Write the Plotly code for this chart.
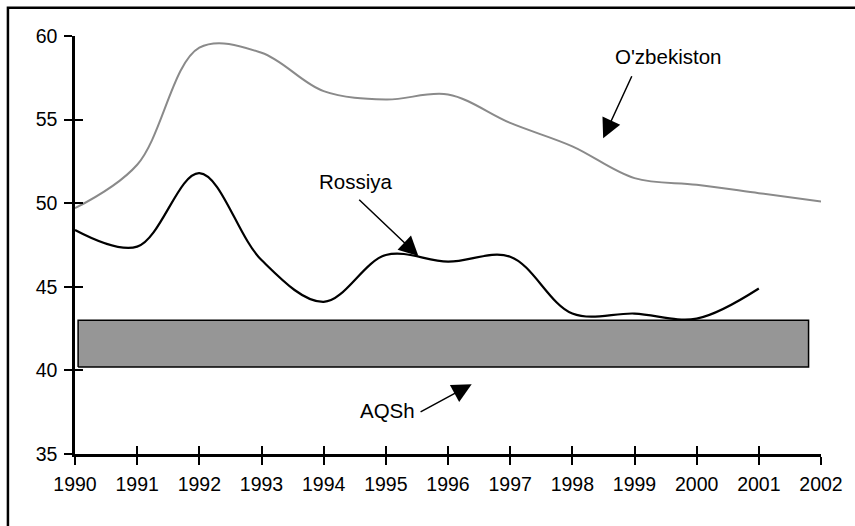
import plotly.graph_objects as go

years = [1990, 1991, 1992, 1993, 1994, 1995, 1996, 1997, 1998, 1999, 2000, 2001, 2002]
uzbekistan = [49.7, 52.3, 59.3, 59.0, 56.7, 56.2, 56.5, 54.8, 53.4, 51.5, 51.1, 50.6, 50.1]
russia_years = [1990, 1991, 1992, 1993, 1994, 1995, 1996, 1997, 1998, 1999, 2000, 2001]
russia = [48.4, 47.4, 51.8, 46.6, 44.1, 46.9, 46.5, 46.8, 43.4, 43.4, 43.1, 44.9]
usa_band_years = [1990.05, 2001.8]
usa_band_range = [40.2, 43.0]
y_ticks = [35, 40, 45, 50, 55, 60]
x_ticks = years

FONT = "Liberation Sans, Arial, sans-serif"

fig = go.Figure()

# USA band (AQSh)
bx = [usa_band_years[0], usa_band_years[1], usa_band_years[1], usa_band_years[0], usa_band_years[0]]
by = [usa_band_range[0], usa_band_range[0], usa_band_range[1], usa_band_range[1], usa_band_range[0]]
fig.add_trace(go.Scatter(x=bx, y=by, mode="lines", fill="toself", fillcolor="#969696",
                         line=dict(color="black", width=1.5), hoverinfo="skip", showlegend=False))

fig.add_trace(go.Scatter(x=years, y=uzbekistan, mode="lines", name="O'zbekiston",
                         line=dict(color="#8a8a8a", width=2, shape="spline", smoothing=1.0),
                         showlegend=False))
fig.add_trace(go.Scatter(x=russia_years, y=russia, mode="lines", name="Rossiya",
                         line=dict(color="black", width=2.2, shape="spline", smoothing=1.0),
                         showlegend=False))
# helper trace for the secondary (inside tick) axes
fig.add_trace(go.Scatter(x=[None], y=[None], xaxis="x2", yaxis="y2", showlegend=False, hoverinfo="skip"))

axis_common = dict(showgrid=False, zeroline=False, showline=True, linecolor="black", linewidth=2.5,
                   tickcolor="black", tickwidth=2, ticklen=8)

fig.update_layout(
    width=855, height=526,
    margin=dict(l=75, r=29, t=36, b=72),
    paper_bgcolor="white", plot_bgcolor="white",
    font=dict(family=FONT, size=19.5, color="black"),
    xaxis=dict(range=[1990, 2002], tickvals=x_ticks, ticks="outside", ticklabelstandoff=3, **axis_common),
    yaxis=dict(range=[35, 60], tickvals=y_ticks, ticks="outside", ticklabelstandoff=3, **axis_common),
    xaxis2=dict(range=[1990, 2002], tickvals=x_ticks, ticks="inside", overlaying="x", anchor="y",
                side="bottom", showticklabels=False, **axis_common),
    yaxis2=dict(range=[35, 60], tickvals=y_ticks, ticks="inside", overlaying="y", anchor="x",
                side="left", showticklabels=False, **axis_common),
)

# outer frame (only top/left edges visible in the crop)
fig.add_shape(type="rect", xref="paper", yref="paper", x0=-0.0899, x1=1.3, y0=-0.5, y1=1.0673,
              line=dict(color="black", width=2.5), fillcolor="rgba(0,0,0,0)", layer="above")

arrow_style = dict(showarrow=True, arrowhead=2, arrowsize=2.6, arrowwidth=1.5, arrowcolor="black", text="")
ann_font = dict(family=FONT, size=20.5, color="black")

fig.add_annotation(x=1995.524, y=46.84, ax=-60.7, ay=-57.7, **arrow_style)
fig.add_annotation(x=1998.496, y=53.88, ax=29.3, ay=-63.6, **arrow_style)
fig.add_annotation(x=1996.381, y=39.17, ax=-52.6, ay=28.4, **arrow_style)

fig.add_annotation(x=1994.52, y=51.27, text="Rossiya", showarrow=False, font=ann_font)
fig.add_annotation(x=1999.54, y=58.8, text="O'zbekiston", showarrow=False, font=ann_font)
fig.add_annotation(x=1995.03, y=37.63, text="AQSh", showarrow=False, font=ann_font)

fig.write_html("out.html", config={"displayModeBar": False},
               post_script="document.body.style.margin='0px'; document.body.style.overflow='hidden';")
